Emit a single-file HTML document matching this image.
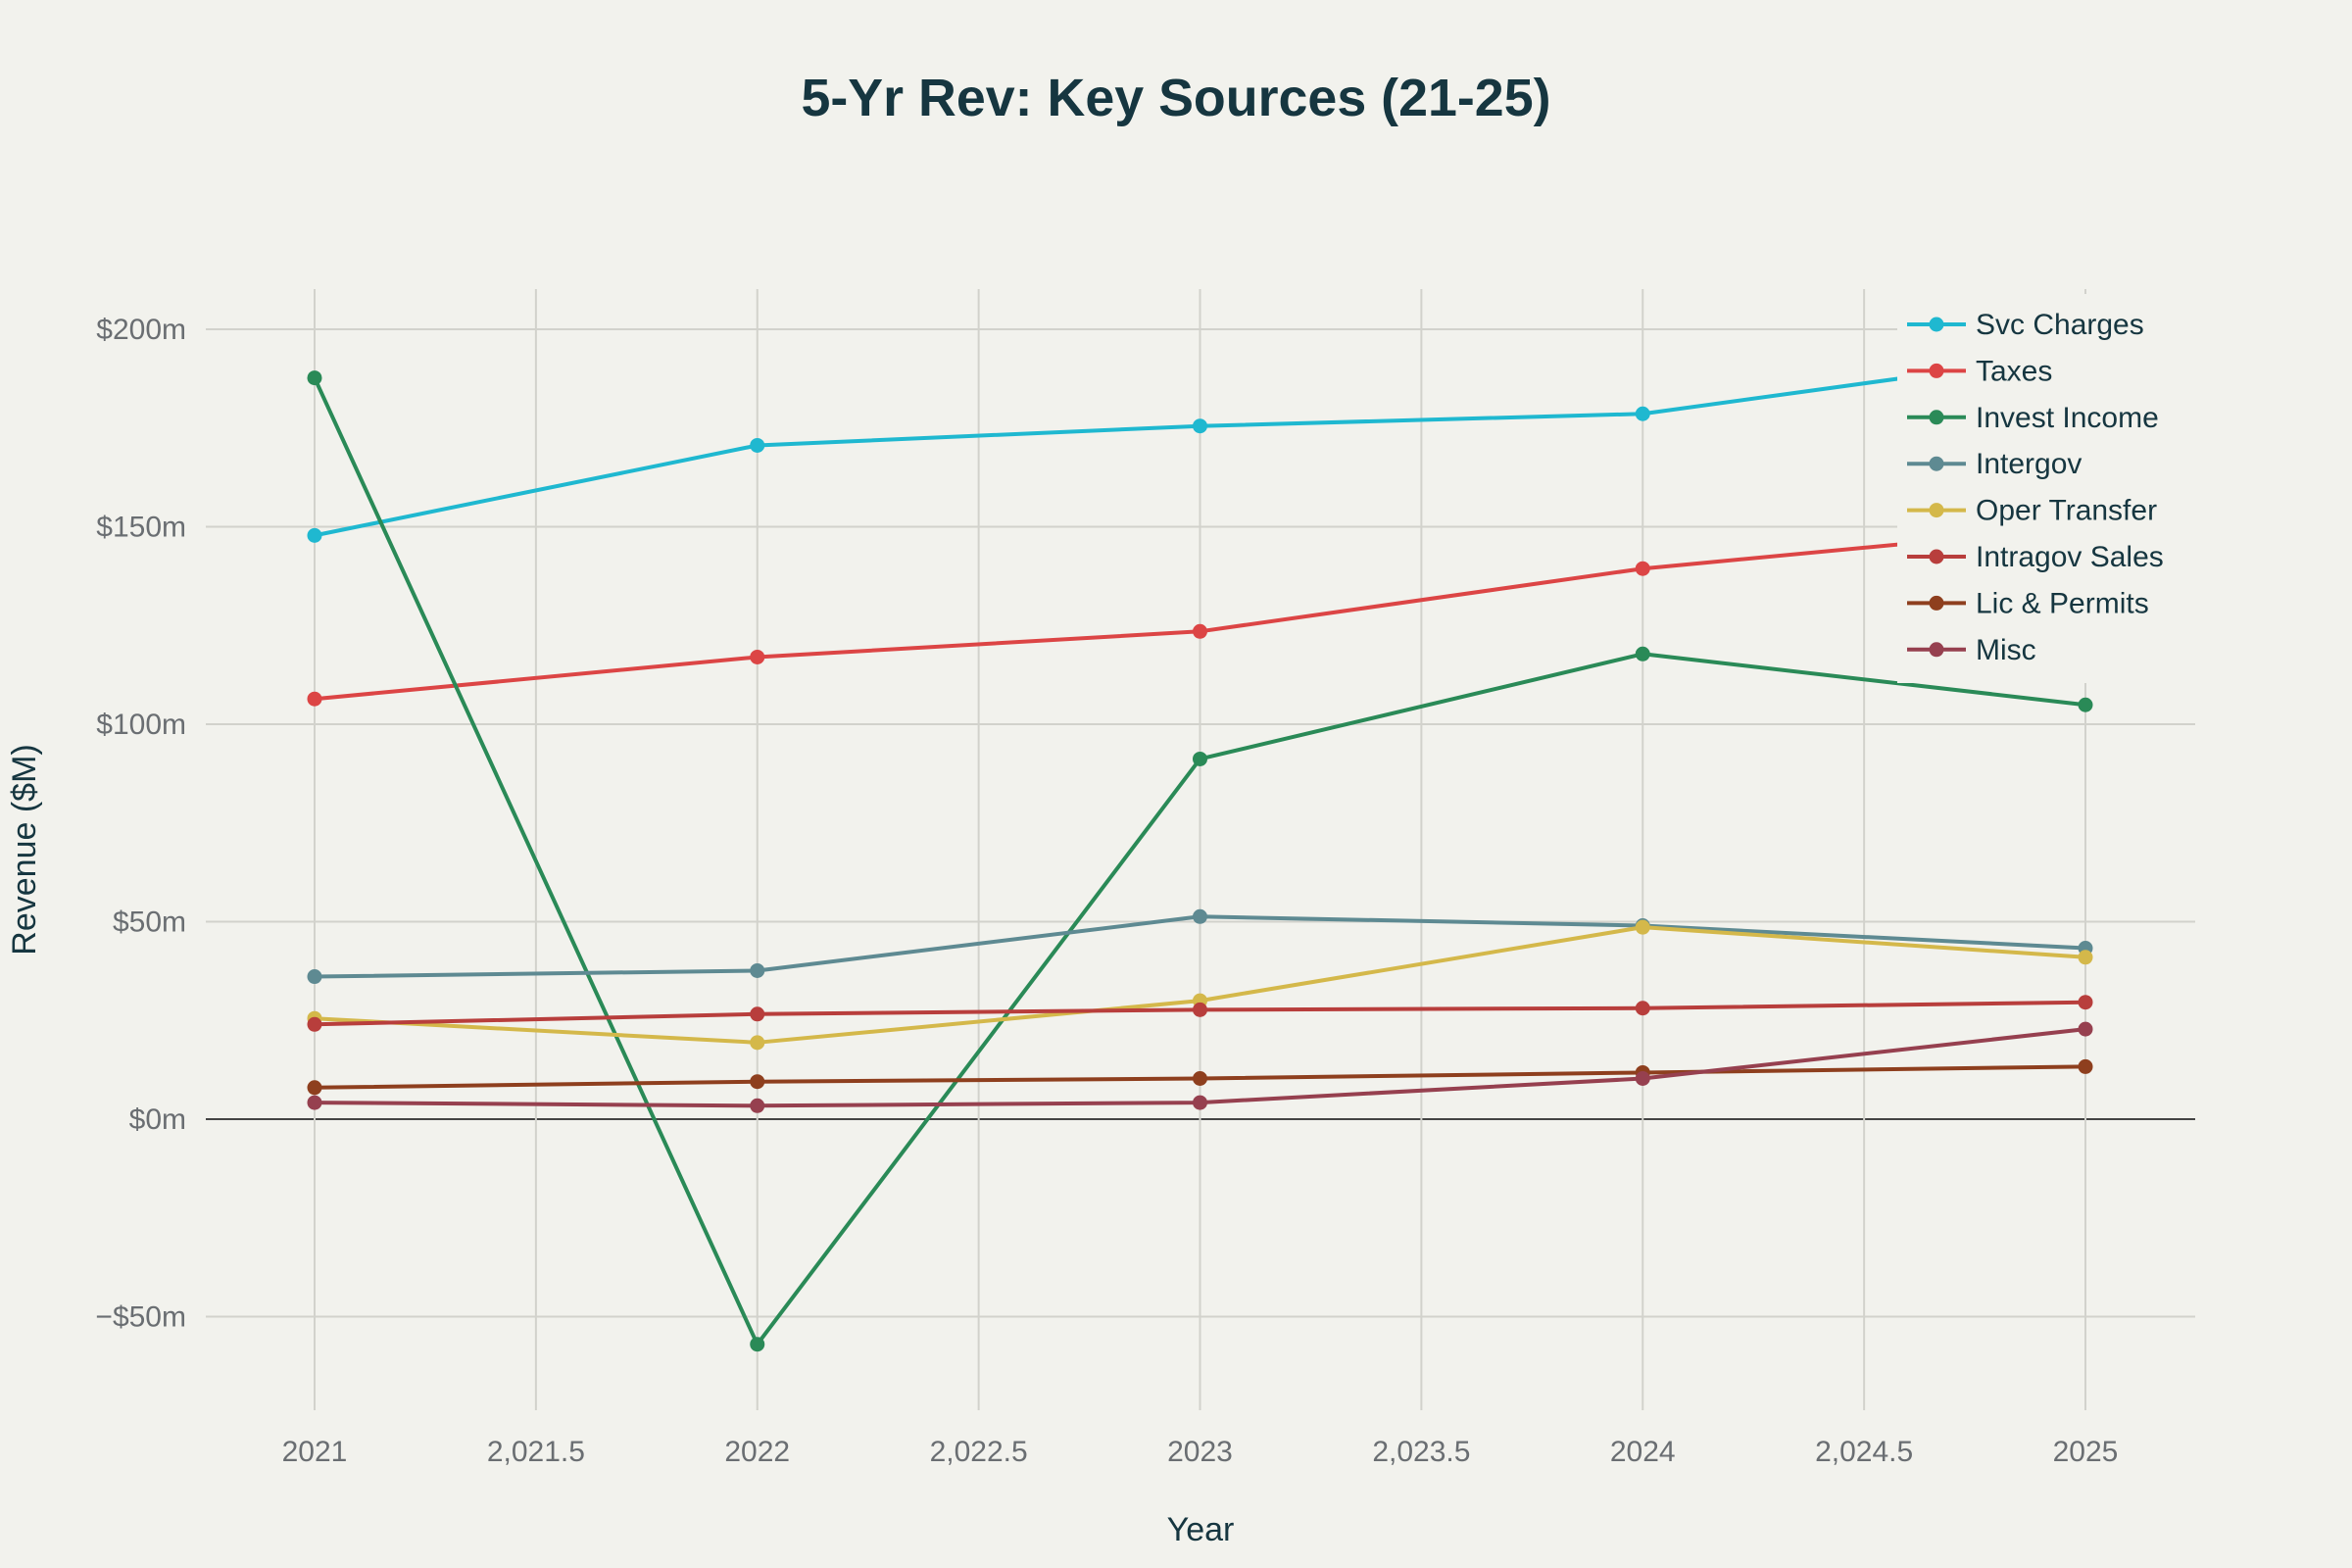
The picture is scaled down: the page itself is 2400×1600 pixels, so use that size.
<!DOCTYPE html>
<html><head><meta charset="utf-8">
<style>
html,body{margin:0;padding:0;background:#f2f2ed;}
svg{display:block;font-family:"Liberation Sans",sans-serif;}
</style></head>
<body>
<svg id="chart" width="2400" height="1600" viewBox="0 0 2400 1600" xmlns="http://www.w3.org/2000/svg">
<rect width="2400" height="1600" fill="#f2f2ed"/>
<text x="1200" y="118" text-anchor="middle" font-size="54" font-weight="bold" fill="#163640" textLength="765" lengthAdjust="spacingAndGlyphs">5-Yr Rev: Key Sources (21-25)</text>
<g id="grid"></g>
<g id="axes"></g>
<g id="series"></g>
<g id="legend"></g>
<text x="1225" y="1572" text-anchor="middle" font-size="34" fill="#163640">Year</text>
<text transform="translate(36,867) rotate(-90)" text-anchor="middle" font-size="34" fill="#163640">Revenue ($M)</text>
</svg>
<script>
const years = [2021, 2022, 2023, 2024, 2025];
const seriesNames = ["Svc Charges","Taxes","Invest Income","Intergov","Oper Transfer","Intragov Sales","Lic & Permits","Misc"];
const svcCharges = [147.8, 170.6, 175.5, 178.6, 194];
const taxes = [106.4, 117, 123.5, 139.4, 150];
const investIncome = [187.7, -57, 91.2, 117.8, 104.9];
const intergov = [36.1, 37.6, 51.3, 49, 43.3];
const operTransfer = [25.5, 19.4, 30, 48.6, 41];
const intragovSales = [24, 26.6, 27.7, 28.1, 29.6];
const licPermits = [8, 9.5, 10.3, 11.8, 13.3];
const misc = [4.2, 3.4, 4.2, 10.3, 22.8];
const yTicks = [-50, 0, 50, 100, 150, 200];
const yTickLabels = ["\u2212$50m","$0m","$50m","$100m","$150m","$200m"];
const xTicks = [2021, 2021.5, 2022, 2022.5, 2023, 2023.5, 2024, 2024.5, 2025];
const xTickLabels = ["2021","2,021.5","2022","2,022.5","2023","2,023.5","2024","2,024.5","2025"];

const colors = ["#1fb8d0","#dc4545","#2a8a57","#5e8a92","#d4b84a","#b83e3c","#8e3f1e","#96404f"];
const allSeries = [svcCharges, taxes, investIncome, intergov, operTransfer, intragovSales, licPermits, misc];
const NS = "http://www.w3.org/2000/svg";
const plot = {left:210, right:2240, top:295, bottom:1439};
function xScale(v){ return 321 + (v - 2021) * (2128 - 321) / 4; }
function yScale(v){ return 1142 - v * (1142 - 336) / 200; }
function mk(tag, attrs, parent){
  const e = document.createElementNS(NS, tag);
  for (const k in attrs) e.setAttribute(k, attrs[k]);
  parent.appendChild(e);
  return e;
}
const grid = document.getElementById("grid");
const axes = document.getElementById("axes");
yTicks.forEach((t, i) => {
  const y = yScale(t);
  const l = mk("line", {x1:plot.left, x2:plot.right, y1:y, y2:y, stroke: t === 0 ? "#444" : "#d2d2cc", "stroke-width": 2}, grid);
  
  
  const tx = mk("text", {x:190, y:y + 10, "text-anchor":"end", "font-size":30, fill:"#6a6e72"}, axes);
  tx.textContent = yTickLabels[i];
  
  
});
xTicks.forEach((t, i) => {
  const x = xScale(t);
  const l = mk("line", {x1:x, x2:x, y1:plot.top, y2:plot.bottom, stroke:"#d2d2cc", "stroke-width":2}, grid);
  
  
  const tx = mk("text", {x:x, y:1491, "text-anchor":"middle", "font-size":30, fill:"#6a6e72"}, axes);
  tx.textContent = xTickLabels[i];
  
  
});
const sg = document.getElementById("series");
allSeries.forEach((vals, si) => {
  const g = mk("g", {}, sg);
  
  
  const pts = vals.map((v, i) => xScale(years[i]) + "," + yScale(v)).join(" ");
  const pl = mk("polyline", {points:pts, fill:"none", stroke:colors[si], "stroke-width":4, "stroke-linejoin":"round"}, g);
  
  
  vals.forEach((v, i) => {
    const c = mk("circle", {cx:xScale(years[i]), cy:yScale(v), r:7.5, fill:colors[si]}, g);
    
    
  });
});
const lg = document.getElementById("legend");
const bg = mk("rect", {x:1936, y:300, width:304, height:397, fill:"#f2f2ed"}, lg);


seriesNames.forEach((n, i) => {
  const y = 331 + i * 47.4;
  const g = mk("g", {}, lg);
  
  
  mk("line", {x1:1946, x2:2006, y1:y, y2:y, stroke:colors[i], "stroke-width":4}, g);
  mk("circle", {cx:1976, cy:y, r:7.5, fill:colors[i]}, g);
  const t = mk("text", {x:2016, y:y + 10, "font-size":30, fill:"#163640"}, g);
  t.textContent = n;
});
</script>
</body></html>
